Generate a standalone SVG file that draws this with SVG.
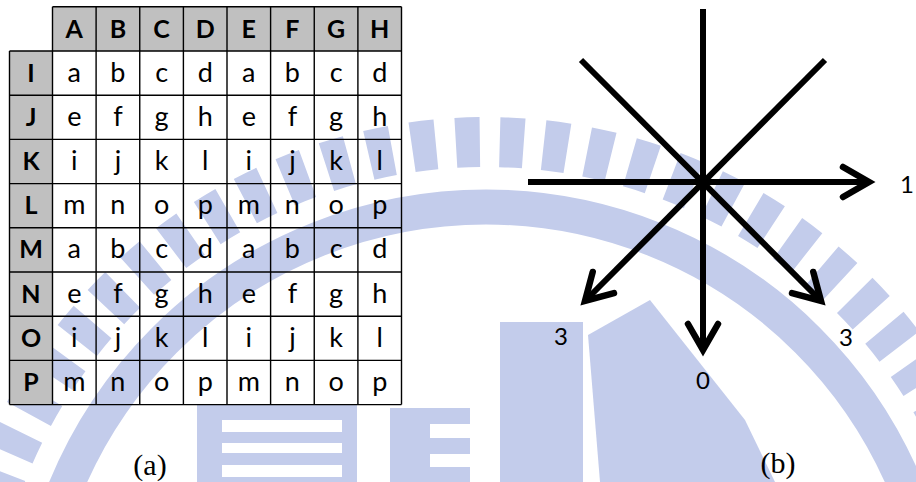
<svg xmlns="http://www.w3.org/2000/svg" width="916" height="482" viewBox="0 0 916 482">
<style>
.wm{fill:#c3cceb;stroke:none}
.wmr{fill:none;stroke:#c3cceb}
.hd{fill:#c0c0c0;stroke:none}
.grid{stroke:#000;stroke-width:1.4;fill:none}
.hb{font-family:Lato,"Open Sans",sans-serif;font-weight:bold;font-size:25px;text-anchor:middle;fill:#000}
.ct{font-family:Lato,"Open Sans",sans-serif;font-size:27px;text-anchor:middle;fill:#000}
.lbl{font-family:Lato,"Open Sans",sans-serif;font-size:24px;fill:#000}
.cap{font-family:"Liberation Serif",serif;font-size:30px;text-anchor:middle;fill:#000}
.ray{stroke:#000;stroke-width:6;fill:none}
</style>
<defs>
<marker id="chev" markerUnits="userSpaceOnUse" viewBox="-34 -24 44 48" refX="0" refY="0" markerWidth="44" markerHeight="48" orient="auto" overflow="visible">
<path d="M-26,-15 L0,0 L-26,15" fill="none" stroke="#000" stroke-width="6.5" stroke-linecap="round" stroke-linejoin="miter"/>
</marker>
</defs>
<rect x="0" y="0" width="916" height="482" fill="#fff"/>
<g id="watermark">
<circle class="wmr" cx="486" cy="662" r="520" stroke-width="50" stroke-dasharray="24 20"/>
<circle class="wmr" cx="486" cy="662" r="455" stroke-width="35"/>
<rect class="wm" x="197" y="405" width="160" height="77"/>
<rect x="222" y="420" width="120" height="12" fill="#fff"/>
<rect x="222" y="443" width="120" height="10" fill="#fff"/>
<rect x="222" y="465" width="120" height="12" fill="#fff"/>
<rect class="wm" x="390" y="408" width="80" height="74"/>
<rect x="430" y="424" width="40" height="14" fill="#fff"/>
<rect x="430" y="454" width="40" height="13" fill="#fff"/>
<rect class="wm" x="500" y="322" width="83" height="160"/>
<polygon class="wm" points="588,335 650,300 745,420 775,482 600,482"/>
</g>
<g id="table">
<rect class="hd" x="52.5" y="6.8" width="349" height="44.2"/>
<rect class="hd" x="9.5" y="51" width="43" height="353.6"/>
<g class="grid">
<path d="M52.5,6.8H401.5M9.5,51H401.5M9.5,95.2H401.5M9.5,139.4H401.5M9.5,183.6H401.5M9.5,227.8H401.5M9.5,272H401.5M9.5,316.2H401.5M9.5,360.4H401.5M9.5,404.6H401.5"/>
<path d="M9.5,51V404.6M52.5,6.8V404.6M96.1,6.8V404.6M139.75,6.8V404.6M183.4,6.8V404.6M227,6.8V404.6M270.6,6.8V404.6M314.25,6.8V404.6M357.9,6.8V404.6M401.5,6.8V404.6"/>
</g>
<g id="col-headers" class="hb">
<text x="74.3" y="37.5">A</text><text x="117.9" y="37.5">B</text><text x="161.6" y="37.5">C</text><text x="205.2" y="37.5">D</text><text x="248.8" y="37.5">E</text><text x="292.4" y="37.5">F</text><text x="336.1" y="37.5">G</text><text x="379.7" y="37.5">H</text>
</g>
<g id="row-headers" class="hb">
<text x="31" y="81.5">I</text><text x="31" y="125.7">J</text><text x="31" y="169.9">K</text><text x="31" y="214.1">L</text><text x="31" y="258.3">M</text><text x="31" y="302.5">N</text><text x="31" y="346.7">O</text><text x="31" y="390.9">P</text>
</g>
<g id="cells" class="ct">
<g id="row-I"><text x="74.3" y="81.5">a</text><text x="117.9" y="81.5">b</text><text x="161.6" y="81.5">c</text><text x="205.2" y="81.5">d</text><text x="248.8" y="81.5">a</text><text x="292.4" y="81.5">b</text><text x="336.1" y="81.5">c</text><text x="379.7" y="81.5">d</text></g>
<g id="row-J"><text x="74.3" y="125.7">e</text><text x="117.9" y="125.7">f</text><text x="161.6" y="125.7">g</text><text x="205.2" y="125.7">h</text><text x="248.8" y="125.7">e</text><text x="292.4" y="125.7">f</text><text x="336.1" y="125.7">g</text><text x="379.7" y="125.7">h</text></g>
<g id="row-K"><text x="74.3" y="169.9">i</text><text x="117.9" y="169.9">j</text><text x="161.6" y="169.9">k</text><text x="205.2" y="169.9">l</text><text x="248.8" y="169.9">i</text><text x="292.4" y="169.9">j</text><text x="336.1" y="169.9">k</text><text x="379.7" y="169.9">l</text></g>
<g id="row-L"><text x="74.3" y="214.1">m</text><text x="117.9" y="214.1">n</text><text x="161.6" y="214.1">o</text><text x="205.2" y="214.1">p</text><text x="248.8" y="214.1">m</text><text x="292.4" y="214.1">n</text><text x="336.1" y="214.1">o</text><text x="379.7" y="214.1">p</text></g>
<g id="row-M"><text x="74.3" y="258.3">a</text><text x="117.9" y="258.3">b</text><text x="161.6" y="258.3">c</text><text x="205.2" y="258.3">d</text><text x="248.8" y="258.3">a</text><text x="292.4" y="258.3">b</text><text x="336.1" y="258.3">c</text><text x="379.7" y="258.3">d</text></g>
<g id="row-N"><text x="74.3" y="302.5">e</text><text x="117.9" y="302.5">f</text><text x="161.6" y="302.5">g</text><text x="205.2" y="302.5">h</text><text x="248.8" y="302.5">e</text><text x="292.4" y="302.5">f</text><text x="336.1" y="302.5">g</text><text x="379.7" y="302.5">h</text></g>
<g id="row-O"><text x="74.3" y="346.7">i</text><text x="117.9" y="346.7">j</text><text x="161.6" y="346.7">k</text><text x="205.2" y="346.7">l</text><text x="248.8" y="346.7">i</text><text x="292.4" y="346.7">j</text><text x="336.1" y="346.7">k</text><text x="379.7" y="346.7">l</text></g>
<g id="row-P"><text x="74.3" y="390.9">m</text><text x="117.9" y="390.9">n</text><text x="161.6" y="390.9">o</text><text x="205.2" y="390.9">p</text><text x="248.8" y="390.9">m</text><text x="292.4" y="390.9">n</text><text x="336.1" y="390.9">o</text><text x="379.7" y="390.9">p</text></g>
</g>
</g>
<g id="connectors">
<line class="ray" x1="703" y1="9" x2="703" y2="350" marker-end="url(#chev)"/>
<line class="ray" x1="528" y1="182" x2="869" y2="182" marker-end="url(#chev)"/>
<line class="ray" x1="581" y1="60" x2="821" y2="301" marker-end="url(#chev)"/>
<line class="ray" x1="825" y1="60" x2="585" y2="301" marker-end="url(#chev)"/>
</g>
<g id="labels">
<text id="lbl-1" class="lbl" x="900" y="193">1</text>
<text id="lbl-3l" class="lbl" x="561" y="345" text-anchor="middle">3</text>
<text id="lbl-0" class="lbl" x="703" y="389" text-anchor="middle">0</text>
<text id="lbl-3r" class="lbl" x="846" y="346" text-anchor="middle">3</text>
<text id="cap-a" class="cap" x="150" y="475">(a)</text>
<text id="cap-b" class="cap" x="778" y="473">(b)</text>
</g>
</svg>
